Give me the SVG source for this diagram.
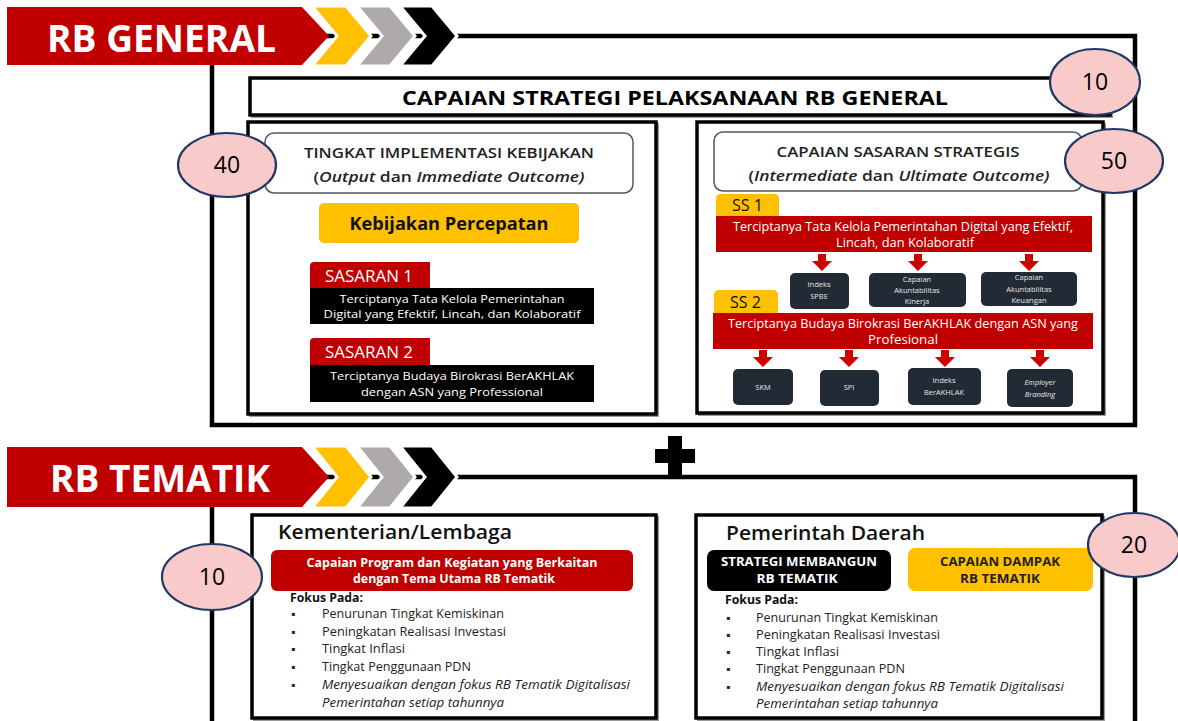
<svg xmlns="http://www.w3.org/2000/svg" width="1178" height="721" viewBox="0 0 1178 721">
<defs>
<style>
text{font-family:"Open Sans","Noto Sans","Liberation Sans",sans-serif;}
.frame{fill:none;stroke:#000;stroke-width:4.5;}
.box{fill:#fff;stroke:#000;stroke-width:3.5;}
.shadow{fill:none;stroke:#9a9a9a;stroke-width:2;}
.rbox{fill:#fff;stroke:#555;stroke-width:1.5;}
.circ{fill:#F9CACA;stroke:#1F3864;stroke-width:2.2;}
.num{font-size:23px;fill:#000;text-anchor:middle;}
.red{fill:#C00000;}
.yel{fill:#FFC000;}
.dark{fill:#222A35;}
.wt{fill:#fff;text-anchor:middle;}
.bt{fill:#000;text-anchor:middle;}
.tiny{font-size:7.5px;fill:#e6e6e6;text-anchor:middle;}
.arr{fill:#D00000;}
.li{font-size:12px;fill:#222;}
.bul{font-size:12px;fill:#222;}
</style>
<path id="darr" d="M-4,0 h8 v7 h6 l-10,10 l-10,-10 h6 z"/>
</defs>

<g id="frames">
  <polyline class="frame" points="325,36 1135,36 1135,425 212,425 212,62"/>
  <polyline class="frame" points="325,477 1135,477 1135,725"/>
  <line class="frame" x1="212" y1="504" x2="212" y2="725"/>
</g>

<g id="banner-general">
  <polygon class="red" points="7,7 302,7 329,36 302,65 7,65"/>
  <polygon fill="#FFC000" stroke="#fff" stroke-width="3" points="312,6 346,6 371,36 346,66 312,66 337,36"/>
  <polygon fill="#AEAAAA" stroke="#fff" stroke-width="3" points="357,6 390,6 415,36 390,66 357,66 382,36"/>
  <polygon fill="#000" stroke="#fff" stroke-width="3" points="400,6 432,6 457,36 432,66 400,66 425,36"/>
  <text x="47" y="52" font-size="38" font-weight="bold" fill="#fff" textLength="229" lengthAdjust="spacingAndGlyphs">RB GENERAL</text>
</g>

<g id="header-general">
  <rect x="252" y="80" width="860" height="37" class="shadow"/>
  <rect x="250" y="78" width="860" height="37" class="box"/>
  <text x="675" y="105" font-size="20" font-weight="bold" class="bt" fill="#111" textLength="546" lengthAdjust="spacingAndGlyphs">CAPAIAN STRATEGI PELAKSANAAN RB GENERAL</text>
</g>
<g id="score-10-top">
  <ellipse cx="1095" cy="82" rx="45" ry="33" class="circ"/>
  <text x="1095" y="90" class="num">10</text>
</g>

<g id="kebijakan-panel">
  <rect x="250" y="124" width="408" height="292" class="shadow"/>
  <rect x="248" y="122" width="408" height="292" class="box"/>
  <rect x="265" y="133" width="368" height="60" rx="9" class="rbox"/>
  <text x="449" y="158" font-size="14.5" font-weight="600" fill="#222" text-anchor="middle" textLength="290" lengthAdjust="spacingAndGlyphs">TINGKAT IMPLEMENTASI  KEBIJAKAN</text>
  <text x="449" y="182" font-size="14.5" font-weight="600" fill="#222" text-anchor="middle" textLength="271" lengthAdjust="spacingAndGlyphs">(<tspan font-style="italic">Output</tspan> dan <tspan font-style="italic">Immediate Outcome)</tspan></text>
  <rect x="319" y="203" width="260" height="40" rx="5" class="yel"/>
  <text x="449" y="230" font-size="18" font-weight="bold" fill="#111" text-anchor="middle" textLength="199" lengthAdjust="spacingAndGlyphs">Kebijakan Percepatan</text>
  <path class="red" d="M310,266 q0,-4 4,-4 h116 v26 h-120 z"/>
  <text x="325" y="282" font-size="16" fill="#fff" textLength="88" lengthAdjust="spacingAndGlyphs">SASARAN 1</text>
  <rect x="310" y="288" width="284" height="36" fill="#000"/>
  <text x="452" y="303" font-size="11.5" class="wt" textLength="225" lengthAdjust="spacingAndGlyphs">Terciptanya Tata Kelola Pemerintahan</text>
  <text x="452" y="318" font-size="11.5" class="wt" textLength="257" lengthAdjust="spacingAndGlyphs">Digital yang Efektif, Lincah, dan Kolaboratif</text>
  <path class="red" d="M310,342 q0,-4 4,-4 h116 v27 h-120 z"/>
  <text x="325" y="358" font-size="16" fill="#fff" textLength="88" lengthAdjust="spacingAndGlyphs">SASARAN 2</text>
  <rect x="310" y="365" width="284" height="37" fill="#000"/>
  <text x="452" y="380" font-size="11.5" class="wt" textLength="244" lengthAdjust="spacingAndGlyphs">Terciptanya Budaya Birokrasi BerAKHLAK</text>
  <text x="452" y="396" font-size="11.5" class="wt" textLength="182" lengthAdjust="spacingAndGlyphs">dengan ASN yang Professional</text>
</g>
<g id="score-40">
  <ellipse cx="227" cy="165" rx="49" ry="32" class="circ"/>
  <text x="227" y="173" class="num">40</text>
</g>

<g id="sasaran-panel">
  <rect x="699" y="124" width="406" height="291" class="shadow"/>
  <rect x="697" y="122" width="406" height="291" class="box"/>
  <rect x="714" y="132" width="368" height="59" rx="9" class="rbox"/>
  <text x="898" y="157" font-size="14.5" font-weight="600" fill="#222" text-anchor="middle" textLength="243" lengthAdjust="spacingAndGlyphs">CAPAIAN  SASARAN STRATEGIS</text>
  <text x="899" y="181" font-size="14.5" font-weight="600" fill="#222" text-anchor="middle" textLength="301" lengthAdjust="spacingAndGlyphs">(<tspan font-style="italic">Intermediate</tspan> dan <tspan font-style="italic">Ultimate Outcome)</tspan></text>
</g>
<g id="ss1">
  <path class="yel" d="M716,199 q0,-5 5,-5 h53 q5,0 5,5 v17 h-63 z"/>
  <text x="732" y="211" font-size="16" fill="#111" textLength="31" lengthAdjust="spacingAndGlyphs">SS 1</text>
  <rect x="716" y="216" width="376" height="36" class="red"/>
  <text x="903" y="231" font-size="12.5" class="wt" textLength="340" lengthAdjust="spacingAndGlyphs">Terciptanya Tata Kelola Pemerintahan Digital yang Efektif,</text>
  <text x="905" y="247" font-size="12.5" class="wt" textLength="138" lengthAdjust="spacingAndGlyphs">Lincah, dan Kolaboratif</text>
</g>
<g id="ind-spbe">
  <rect x="790" y="273" width="59" height="36" rx="5" class="dark"/>
  <text x="819" y="287" class="tiny">Indeks</text>
  <text x="819" y="299" class="tiny">SPBE</text>
</g>
<g id="ind-kinerja">
  <rect x="869" y="273" width="97" height="34" rx="5" class="dark"/>
  <text x="917" y="282" class="tiny">Capaian</text>
  <text x="917" y="293" class="tiny">Akuntabilitas</text>
  <text x="917" y="304" class="tiny">Kinerja</text>
</g>
<g id="ind-keuangan">
  <rect x="981" y="272" width="96" height="34" rx="5" class="dark"/>
  <text x="1029" y="280" class="tiny">Capaian</text>
  <text x="1029" y="292" class="tiny">Akuntabilitas</text>
  <text x="1029" y="303" class="tiny">Keuangan</text>
</g>
<g id="ss2">
  <path class="yel" d="M714,295 q0,-5 5,-5 h54 q5,0 5,5 v18 h-64 z"/>
  <text x="730" y="308" font-size="16" fill="#111" textLength="31" lengthAdjust="spacingAndGlyphs">SS 2</text>
  <rect x="713" y="313" width="380" height="36" class="red"/>
  <text x="903" y="328" font-size="12.5" class="wt" textLength="350" lengthAdjust="spacingAndGlyphs">Terciptanya Budaya Birokrasi BerAKHLAK dengan ASN yang</text>
  <text x="903" y="344" font-size="12.5" class="wt" textLength="70" lengthAdjust="spacingAndGlyphs">Profesional</text>
</g>
<g id="ind-skm">
  <rect x="733" y="369" width="60" height="36" rx="5" class="dark"/>
  <text x="763" y="390" class="tiny">SKM</text>
</g>
<g id="ind-spi">
  <rect x="820" y="370" width="59" height="36" rx="5" class="dark"/>
  <text x="849" y="390" class="tiny">SPI</text>
</g>
<g id="ind-berakhlak">
  <rect x="908" y="368" width="73" height="37" rx="5" class="dark"/>
  <text x="944" y="383" class="tiny">Indeks</text>
  <text x="944" y="395" class="tiny">BerAKHLAK</text>
</g>
<g id="ind-employer">
  <rect x="1007" y="369" width="66" height="38" rx="5" class="dark"/>
  <text x="1040" y="385" class="tiny" font-style="italic">Employer</text>
  <text x="1040" y="397" class="tiny" font-style="italic">Branding</text>
</g>
<g id="score-50">
  <ellipse cx="1114" cy="161" rx="49" ry="32" class="circ"/>
  <text x="1114" y="169" class="num">50</text>
</g>

<g id="plus">
  <rect x="668" y="436" width="14" height="40" fill="#000"/>
  <rect x="655" y="449" width="40" height="14" fill="#000"/>
</g>

<g id="banner-tematik">
  <polygon class="red" points="7,447 302,447 329,477 302,507 7,507"/>
  <polygon fill="#FFC000" stroke="#fff" stroke-width="3" points="312,446 346,446 371,477 346,508 312,508 337,477"/>
  <polygon fill="#AEAAAA" stroke="#fff" stroke-width="3" points="357,446 390,446 415,477 390,508 357,508 382,477"/>
  <polygon fill="#000" stroke="#fff" stroke-width="3" points="400,446 432,446 457,477 432,508 400,508 425,477"/>
  <text x="50" y="492" font-size="38" font-weight="bold" fill="#fff" textLength="220" lengthAdjust="spacingAndGlyphs">RB TEMATIK</text>
</g>

<g id="kl-panel">
  <rect x="254" y="517" width="404" height="203" class="shadow"/>
  <rect x="252" y="515" width="404" height="203" class="box"/>
  <text x="278" y="539" font-size="20" font-weight="600" fill="#111" textLength="234" lengthAdjust="spacingAndGlyphs">Kementerian/Lembaga</text>
  <rect x="271" y="550" width="362" height="41" rx="6" class="red"/>
  <text x="452" y="567" font-size="11.5" font-weight="bold" class="wt" textLength="291" lengthAdjust="spacingAndGlyphs">Capaian Program dan Kegiatan yang Berkaitan</text>
  <text x="454" y="583" font-size="11.5" font-weight="bold" class="wt" textLength="202" lengthAdjust="spacingAndGlyphs">dengan Tema Utama RB Tematik</text>
  <text x="290" y="602" font-size="12" font-weight="bold" fill="#111" textLength="73" lengthAdjust="spacingAndGlyphs">Fokus Pada:</text>
  <text x="291" y="618" class="bul">▪</text>
  <text x="322" y="618" class="li" textLength="182" lengthAdjust="spacingAndGlyphs">Penurunan Tingkat Kemiskinan</text>
  <text x="291" y="636" class="bul">▪</text>
  <text x="322" y="636" class="li" textLength="184" lengthAdjust="spacingAndGlyphs">Peningkatan Realisasi Investasi</text>
  <text x="291" y="653" class="bul">▪</text>
  <text x="322" y="653" class="li" textLength="83" lengthAdjust="spacingAndGlyphs">Tingkat Inflasi</text>
  <text x="291" y="671" class="bul">▪</text>
  <text x="322" y="671" class="li" textLength="149" lengthAdjust="spacingAndGlyphs">Tingkat Penggunaan PDN</text>
  <text x="291" y="689" class="bul">▪</text>
  <text x="322" y="689" class="li" font-style="italic" textLength="308" lengthAdjust="spacingAndGlyphs">Menyesuaikan dengan fokus RB Tematik Digitalisasi</text>
  <text x="322" y="707" class="li" font-style="italic" textLength="182" lengthAdjust="spacingAndGlyphs">Pemerintahan setiap tahunnya</text>
</g>
<g id="score-10-kl">
  <ellipse cx="212" cy="577" rx="50" ry="33" class="circ"/>
  <text x="212" y="585" class="num">10</text>
</g>

<g id="pemda-panel">
  <rect x="698" y="517" width="406" height="203" class="shadow"/>
  <rect x="696" y="515" width="406" height="203" class="box"/>
  <text x="726" y="540" font-size="20" font-weight="600" fill="#111" textLength="199" lengthAdjust="spacingAndGlyphs">Pemerintah Daerah</text>
  <rect x="707" y="550" width="184" height="41" rx="7" fill="#000"/>
  <text x="799" y="566" font-size="11.5" font-weight="bold" class="wt" textLength="156" lengthAdjust="spacingAndGlyphs">STRATEGI MEMBANGUN</text>
  <text x="797" y="583" font-size="11.5" font-weight="bold" class="wt" textLength="81" lengthAdjust="spacingAndGlyphs">RB TEMATIK</text>
  <rect x="908" y="548" width="185" height="43" rx="7" class="yel"/>
  <text x="1000" y="566" font-size="11.5" font-weight="bold" fill="#222" text-anchor="middle" textLength="120" lengthAdjust="spacingAndGlyphs">CAPAIAN DAMPAK</text>
  <text x="1000" y="583" font-size="11.5" font-weight="bold" fill="#222" text-anchor="middle" textLength="80" lengthAdjust="spacingAndGlyphs">RB TEMATIK</text>
  <text x="725" y="604" font-size="12" font-weight="bold" fill="#111" textLength="73" lengthAdjust="spacingAndGlyphs">Fokus Pada:</text>
  <text x="726" y="622" class="bul">▪</text>
  <text x="756" y="622" class="li" textLength="182" lengthAdjust="spacingAndGlyphs">Penurunan Tingkat Kemiskinan</text>
  <text x="726" y="639" class="bul">▪</text>
  <text x="756" y="639" class="li" textLength="184" lengthAdjust="spacingAndGlyphs">Peningkatan Realisasi Investasi</text>
  <text x="726" y="656" class="bul">▪</text>
  <text x="756" y="656" class="li" textLength="83" lengthAdjust="spacingAndGlyphs">Tingkat Inflasi</text>
  <text x="726" y="673" class="bul">▪</text>
  <text x="756" y="673" class="li" textLength="149" lengthAdjust="spacingAndGlyphs">Tingkat Penggunaan PDN</text>
  <text x="726" y="691" class="bul">▪</text>
  <text x="756" y="691" class="li" font-style="italic" textLength="308" lengthAdjust="spacingAndGlyphs">Menyesuaikan dengan fokus RB Tematik Digitalisasi</text>
  <text x="756" y="708" class="li" font-style="italic" textLength="182" lengthAdjust="spacingAndGlyphs">Pemerintahan setiap tahunnya</text>
</g>
<g id="score-20">
  <ellipse cx="1134" cy="545" rx="46" ry="32" class="circ"/>
  <text x="1134" y="553" class="num">20</text>
</g>

<g id="connectors">
  <use href="#darr" class="arr" x="822" y="254"/>
  <use href="#darr" class="arr" x="918" y="254"/>
  <use href="#darr" class="arr" x="1029" y="254"/>
  <use href="#darr" class="arr" x="763" y="350"/>
  <use href="#darr" class="arr" x="849" y="350"/>
  <use href="#darr" class="arr" x="945" y="350"/>
  <use href="#darr" class="arr" x="1040" y="350"/>
</g>
</svg>
